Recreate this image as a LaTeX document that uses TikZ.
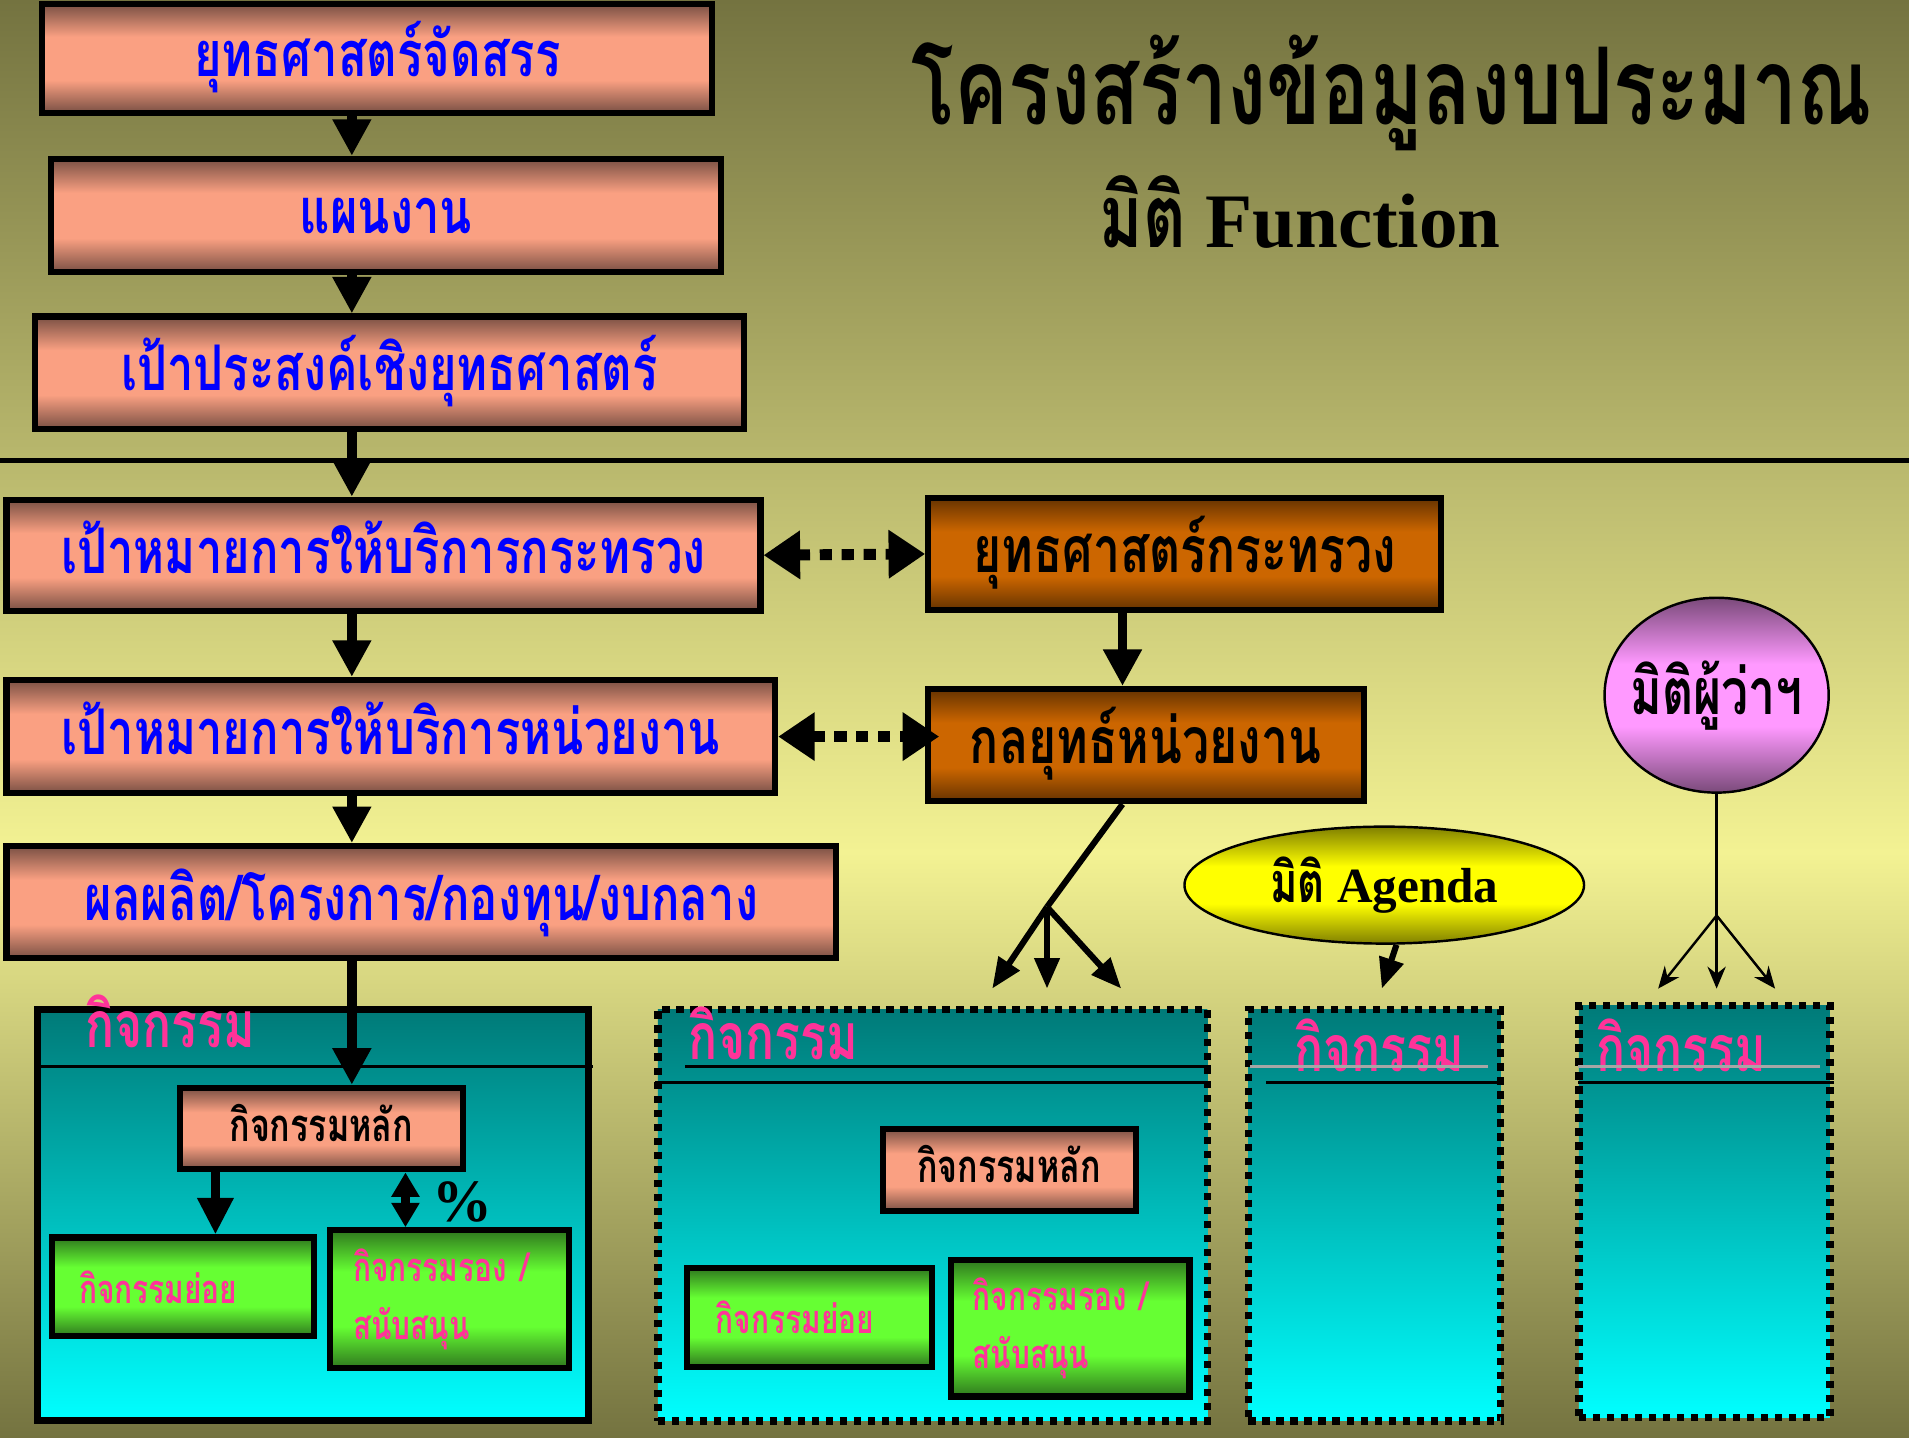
\documentclass[tikz,border=0pt]{standalone}
\usepackage{fontspec}
\setmainfont{Liberation Serif}
\newfontfamily\thai[Script=Thai,FakeStretch=0.75]{Loma}
\usetikzlibrary{arrows.meta,positioning,shapes.geometric}

\definecolor{bgdark}{RGB}{116,115,64}
\definecolor{bglight}{RGB}{243,242,147}
\definecolor{salmonmid}{RGB}{250,160,130}
\definecolor{salmondark}{RGB}{122,80,68}
\definecolor{brownmid}{RGB}{204,102,0}
\definecolor{browndark}{RGB}{102,51,0}
\definecolor{greenmid}{RGB}{102,255,51}
\definecolor{greendark}{RGB}{47,120,30}
\definecolor{agendamid}{RGB}{255,255,0}
\definecolor{agendadark}{RGB}{128,128,0}
\definecolor{govmid}{RGB}{255,153,255}
\definecolor{govdark}{RGB}{122,74,122}
\definecolor{actdark}{RGB}{0,122,120}
\definecolor{actlight}{RGB}{0,255,255}
\definecolor{hotpink}{RGB}{255,51,153}
\definecolor{textblue}{RGB}{0,0,255}

% dark edges, flat colour in the middle
\pgfdeclareverticalshading{salmonshade}{100bp}{color(0bp)=(salmondark); color(25bp)=(salmondark); color(40bp)=(salmonmid); color(60bp)=(salmonmid); color(75bp)=(salmondark); color(100bp)=(salmondark)}
\pgfdeclareverticalshading{brownshade}{100bp}{color(0bp)=(browndark); color(25bp)=(browndark); color(40bp)=(brownmid); color(60bp)=(brownmid); color(75bp)=(browndark); color(100bp)=(browndark)}
\pgfdeclareverticalshading{greenshade}{100bp}{color(0bp)=(greendark); color(25bp)=(greendark); color(40bp)=(greenmid); color(60bp)=(greenmid); color(75bp)=(greendark); color(100bp)=(greendark)}
\pgfdeclareverticalshading{agendashade}{100bp}{color(0bp)=(agendadark); color(25bp)=(agendadark); color(42bp)=(agendamid); color(58bp)=(agendamid); color(75bp)=(agendadark); color(100bp)=(agendadark)}
\pgfdeclareverticalshading{govshade}{100bp}{color(0bp)=(govdark); color(25bp)=(govdark); color(42bp)=(govmid); color(58bp)=(govmid); color(75bp)=(govdark); color(100bp)=(govdark)}

\begin{document}
\begin{tikzpicture}[x=0.01cm,y=-0.01cm,inner sep=0pt,>={Triangle[length=0.3cm,width=0.3cm]}]
	% background
	\fill[top color=bgdark,bottom color=bglight] (0,0) rectangle (1568,700);
	\fill[top color=bglight,bottom color=bgdark] (0,700) rectangle (1568,1181);
	\useasboundingbox (0,0) rectangle (1568,1181);
	\draw[line width=0.04cm] (0,378) -- (1568,378);

	\tikzset{goal/.style={draw,line width=0.05cm,shading=salmonshade,
		text=textblue,font=\thai\bfseries\fontsize{14.7}{17}\selectfont,text height=8.5pt,text depth=0pt}}
	\tikzset{strat/.style={goal,shading=brownshade,text=black,font=\thai\bfseries\fontsize{15}{17}\selectfont}}
	\tikzset{actbox/.style={line width=0.06cm,top color=actdark,bottom color=actlight}}
	\tikzset{dotbox/.style={actbox,dash pattern=on 0.06cm off 0.055cm}}
	\tikzset{acthead/.style={text=hotpink,font=\thai\bfseries\fontsize{15}{18}\selectfont,anchor=base}}
	\tikzset{mainbox/.style={goal,text=black,font=\thai\bfseries\fontsize{10.6}{13}\selectfont,text height=6pt}}
	\tikzset{subbox/.style={draw,line width=0.05cm,shading=greenshade,align=left,
		text=hotpink,font=\thai\bfseries\fontsize{9.3}{13.5}\selectfont}}
	\tikzset{spinearrow/.style={->,line width=0.08cm}}
	\tikzset{link/.style={{Triangle[length=0.3cm,width=0.38cm]}-{Triangle[length=0.3cm,width=0.38cm]},line width=0.09cm,dash pattern=on 0.1cm off 0.08cm}}
	\tikzset{branch/.style={-{Triangle[length=0.25cm,width=0.2cm]},line width=0.05cm}}
	\tikzset{thinbranch/.style={-{Stealth[length=0.18cm,width=0.15cm]},line width=0.02cm}}

	% title
	\node[anchor=base,font=\thai\bfseries\fontsize{25}{30}\selectfont] (title) at (1143,102) {โครงสร้างข้อมูลงบประมาณ};
	\node[anchor=base,font=\bfseries\fontsize{18}{21}\selectfont] (dim) at (1068,203) {{\thai\fontsize{20.5}{24}\selectfont มิติ} Function};

	% activity containers
	\node[actbox,draw,minimum width=4.52cm,minimum height=3.37cm] (act1) at (257,998) {};
	\node[dotbox,draw,minimum width=4.51cm,minimum height=3.38cm] (act2) at (766,998) {};
	\node[dotbox,draw,minimum width=2.07cm,minimum height=3.38cm] (act3) at (1129,998) {};
	\node[dotbox,draw,minimum width=2.06cm,minimum height=3.38cm] (act4) at (1400,995) {};
	\node[acthead] (head1) at (140,860) {กิจกรรม};
	\node[acthead] (head2) at (635,870) {กิจกรรม};
	\node[acthead] (head3) at (1133,880) {กิจกรรม};
	\node[acthead] (head4) at (1381,880) {กิจกรรม};
	\draw[line width=0.02cm] (33,876) -- (487,876);
	\draw[line width=0.02cm] (563,876) -- (995,876);
	\draw[line width=0.02cm] (538,889) -- (995,889);
	\draw[line width=0.02cm,gray!70] (1027,876) -- (1222,876);
	\draw[line width=0.02cm] (1040,889) -- (1233,889);
	\draw[line width=0.02cm,gray!70] (1296,876) -- (1495,876);
	\draw[line width=0.02cm] (1296,889) -- (1506,889);

	% upper chain
	\coordinate (spine) at (289,0);
	\node[goal,minimum width=5.50cm,minimum height=0.89cm] (alloc) at (310,48) {ยุทธศาสตร์จัดสรร};
	\node[goal,minimum width=5.50cm,minimum height=0.93cm] (plan) at (317,177) {แผนงาน};
	\node[goal,minimum width=5.82cm,minimum height=0.92cm] (sgoal) at (320,306) {เป้าประสงค์เชิงยุทธศาสตร์};
	\node[goal,minimum width=6.19cm,minimum height=0.91cm] (mtarget) at (315,456) {เป้าหมายการให้บริการกระทรวง};
	\node[goal,minimum width=6.31cm,minimum height=0.93cm] (utarget) at (321,605) {เป้าหมายการให้บริการหน่วยงาน};
	\node[goal,minimum width=6.81cm,minimum height=0.92cm] (output) at (346,741) {ผลผลิต/โครงการ/กองทุน/งบกลาง};

	\coordinate (gx) at (922,0);
	\node[strat,minimum width=4.21cm,minimum height=0.92cm] (mstrat) at (973,455) {ยุทธศาสตร์กระทรวง};
	\node[strat,minimum width=3.58cm,minimum height=0.92cm] (ustrat) at (941,612) {กลยุทธ์หน่วยงาน};

	% boxes inside the activities
	\node[mainbox,minimum width=2.32cm,minimum height=0.67cm] (main1) at (264,927) {กิจกรรมหลัก};
	\node[subbox,minimum width=2.15cm,minimum height=0.81cm,text width=1.70cm] (sub1) at (150,1057) {กิจกรรมย่อย};
	\node[subbox,minimum width=1.96cm,minimum height=1.13cm,text width=1.58cm] (sup1) at (369,1067) {กิจกรรมรอง /\\สนับสนุน};
	\node[mainbox,minimum width=2.08cm,minimum height=0.68cm] (main2) at (829,961) {กิจกรรมหลัก};
	\node[subbox,minimum width=2.01cm,minimum height=0.81cm,text width=1.54cm] (sub2) at (665,1082) {กิจกรรมย่อย};
	\node[subbox,minimum width=1.96cm,minimum height=1.12cm,text width=1.60cm] (sup2) at (879,1091) {กิจกรรมรอง /\\สนับสนุน};
	\node[font=\bfseries\fontsize{14}{16}\selectfont] (pct) at (380,987) {\%};

	% arrows
	\draw[spinearrow] (alloc.south -| spine) -- (plan.north -| spine);
	\draw[spinearrow] (plan.south -| spine) -- (sgoal.north -| spine);
	\draw[spinearrow] (sgoal.south -| spine) -- (mtarget.north -| spine);
	\draw[spinearrow] (mtarget.south -| spine) -- (utarget.north -| spine);
	\draw[spinearrow] (utarget.south -| spine) -- (output.north -| spine);
	\draw[spinearrow] (output.south -| spine) -- (main1.north -| spine);
	\draw[spinearrow] (mstrat.south -| gx) -- (ustrat.north -| gx);
	\draw[link] (mtarget.east) -- (mstrat.west);
	\draw[link] (utarget.east) -- ([xshift=0.12cm]utarget.east -| ustrat.west);
	\draw[spinearrow,>={Triangle[length=0.3cm,width=0.28cm]}] ([xshift=-0.87cm]main1.south) -- ([xshift=-0.87cm]main1.south |- sub1.north);
	\draw[spinearrow,<->,>={Triangle[length=0.2cm,width=0.22cm]}] ([xshift=0.69cm]main1.south) -- ([xshift=0.69cm]main1.south |- sup1.north);

	% fork from the unit strategy
	\coordinate (fork1) at (860,745);
	\coordinate (f1) at (815,812);
	\coordinate (f2) at (860,812);
	\coordinate (f3) at (921,812);
	\draw[line width=0.05cm] (ustrat.south -| gx) -- (fork1);
	\draw[branch] (fork1) -- (f1);
	\draw[branch] (fork1) -- (f2);
	\draw[branch] (fork1) -- (f3);

	% agenda
	\node[draw,ellipse,line width=0.02cm,shading=agendashade,inner xsep=-0.2cm,
		minimum width=3.28cm,minimum height=0.96cm,font=\bfseries\fontsize{11.5}{14}\selectfont] (agenda) at (1137,727)
		{{\thai\fontsize{13}{15}\selectfont มิติ} Agenda};
	\coordinate (a1) at (1135,812);
	\draw[branch] ([xshift=0.1cm]agenda.south) -- (a1);

	% governor
	\node[draw,ellipse,line width=0.02cm,shading=govshade,inner xsep=-0.3cm,
		minimum width=1.84cm,minimum height=1.6cm,font=\thai\bfseries\fontsize{15}{18}\selectfont] (gov) at (1410,571) {มิติผู้ว่าฯ};
	\coordinate (fork2) at (1410,752);
	\coordinate (g1) at (1362,812);
	\coordinate (g2) at (1410,812);
	\coordinate (g3) at (1458,812);
	\draw[line width=0.02cm] (gov.south) -- (fork2);
	\draw[thinbranch] (fork2) -- (g1);
	\draw[thinbranch] (fork2) -- (g2);
	\draw[thinbranch] (fork2) -- (g3);
\end{tikzpicture}
\end{document}
